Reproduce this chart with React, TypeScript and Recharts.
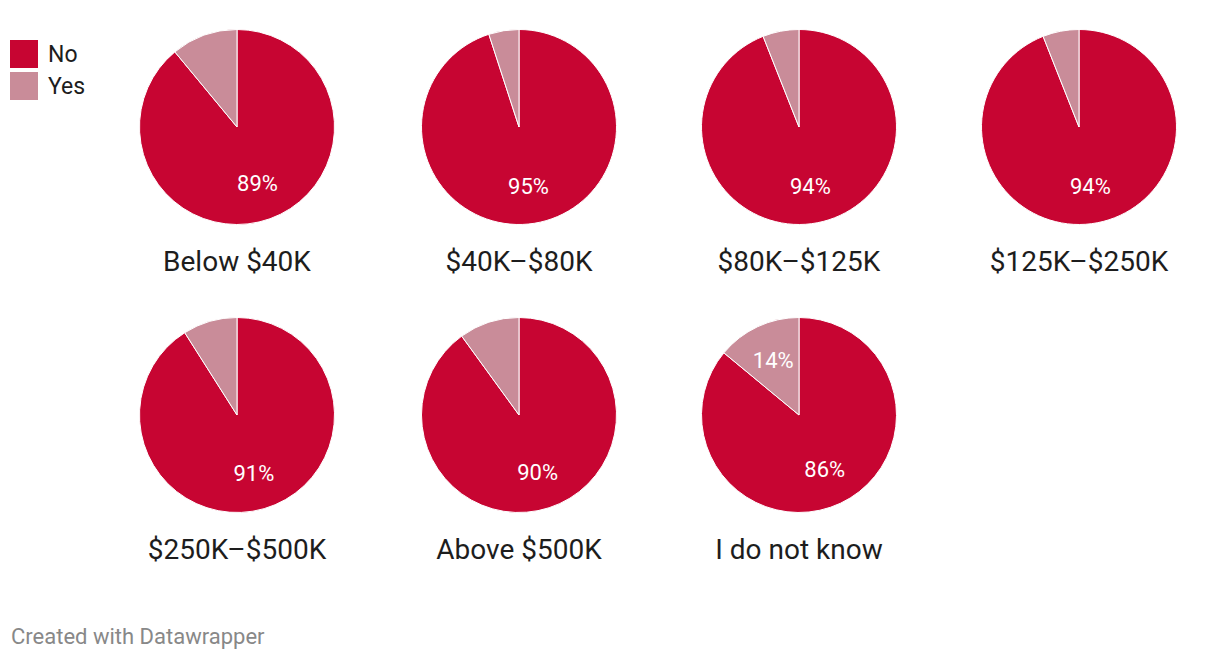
import React from "react"
import { PieChart, Pie, Cell } from "recharts"

const categories = ["Below $40K", "$40K–$80K", "$80K–$125K", "$125K–$250K", "$250K–$500K", "Above $500K", "I do not know"]
const answers = ["No", "Yes"]
const noValues = [89, 95, 94, 94, 91, 90, 86]
const yesValues = [11, 5, 6, 6, 9, 10, 14]

const colors = ["#c70532", "#c98c99"]
const RADIAN = Math.PI / 180

// grid layout of the small multiples
const colX = [237, 519, 799, 1079]
const rowY = [127, 415]
const radius = 97.5

const PctLabel = (props: any) => {
  const { cx, cy, midAngle, outerRadius, percent, value } = props
  // small slices are left unlabelled, like the original
  if (percent < 0.12) return null
  const r = outerRadius * 0.62
  const x = cx + r * Math.cos(-midAngle * RADIAN)
  const y = cy + r * Math.sin(-midAngle * RADIAN)
  return (
    <text x={x} y={y} fill="#fff" textAnchor="middle" dominantBaseline="central" fontSize={22} fontFamily="Roboto">
      {value}%
    </text>
  )
}

export default function App() {
  const pies = categories.map((cat, i) => ({
    cat,
    cx: colX[i % 4],
    cy: rowY[Math.floor(i / 4)],
    data: [
      { name: answers[0], value: noValues[i] },
      { name: answers[1], value: yesValues[i] },
    ],
  }))

  return (
    <div style={{ position: "absolute", left: 0, top: 0, width: 1220, height: 660, background: "#fff", fontFamily: "Roboto" }}>
      <PieChart
        width={1220}
        height={660}
        margin={{ top: 0, right: 0, bottom: 0, left: 0 }}
        style={{ position: "absolute", left: 0, top: 0 }}
      >
        {pies.map((p, i) => (
          <Pie
            key={i}
            data={p.data}
            dataKey="value"
            nameKey="name"
            cx={p.cx}
            cy={p.cy}
            outerRadius={radius}
            startAngle={90}
            endAngle={-270}
            stroke="#fff"
            strokeWidth={1}
            label={PctLabel}
            labelLine={false}
            isAnimationActive={false}
          >
            {p.data.map((d, j) => (
              <Cell key={j} fill={colors[j]} />
            ))}
          </Pie>
        ))}
      </PieChart>

      {pies.map((p, i) => (
        <div
          key={i}
          style={{
            position: "absolute",
            left: p.cx - 140,
            width: 280,
            top: p.cy + 135 - 20,
            height: 40,
            lineHeight: "40px",
            textAlign: "center",
            fontSize: 28,
            color: "#1d1d1d",
          }}
        >
          {p.cat}
        </div>
      ))}

      <div style={{ position: "absolute", left: 10, top: 40 }}>
        {answers.map((a, j) => (
          <div key={a} style={{ display: "flex", alignItems: "center", height: 28, marginBottom: 4 }}>
            <span style={{ width: 28, height: 28, background: colors[j], display: "inline-block" }} />
            <span style={{ marginLeft: 10, fontSize: 23, color: "#1d1d1d" }}>{a}</span>
          </div>
        ))}
      </div>

      <div style={{ position: "absolute", left: 11, top: 624, fontSize: 22, color: "#888" }}>Created with Datawrapper</div>
    </div>
  )
}
